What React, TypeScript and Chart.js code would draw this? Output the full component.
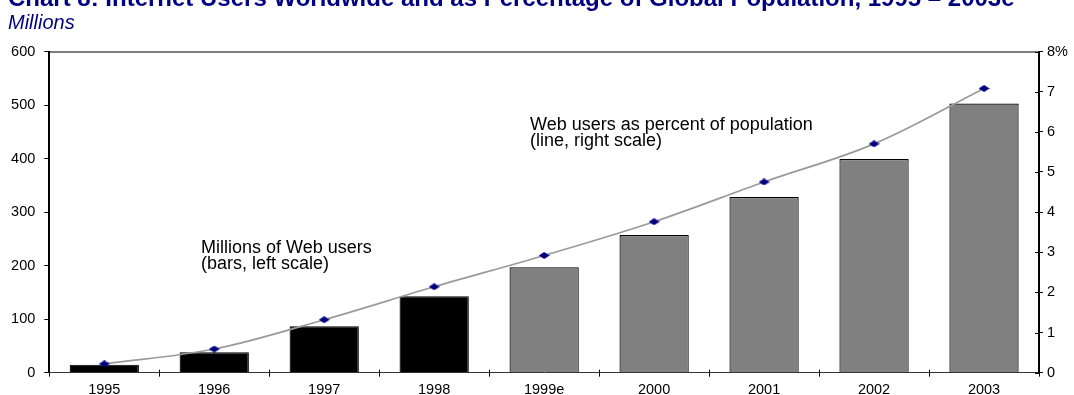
import React, { useEffect, useRef } from "react";
import { Chart, registerables } from "chart.js";

Chart.register(...registerables);

// ---- data ----
const categories = ["1995", "1996", "1997", "1998", "1999e", "2000", "2001", "2002", "2003"];
const webUsersMillions = [15, 38, 87, 143, 197, 257, 328, 399, 503];
const percentOfPopulation = [0.22, 0.59, 1.32, 2.14, 2.92, 3.76, 4.75, 5.7, 7.08];
const isEstimate = [false, false, false, false, true, true, true, true, true];
const leftTickValues = [0, 100, 200, 300, 400, 500, 600];
const rightTickValues = [0, 1, 2, 3, 4, 5, 6, 7, 8];

const FONT = "'Liberation Sans', Arial, Helvetica, sans-serif";

function makeDiamond(): HTMLCanvasElement {
  const c = document.createElement("canvas");
  c.width = 11;
  c.height = 7;
  const g = c.getContext("2d")!;
  g.fillStyle = "#000080";
  g.beginPath();
  g.moveTo(0, 3.5);
  g.lineTo(5.5, 0);
  g.lineTo(11, 3.5);
  g.lineTo(5.5, 7);
  g.closePath();
  g.fill();
  return c;
}

const framePlugin = {
  id: "frame",
  afterDraw(chart: any) {
    const { ctx, chartArea, scales } = chart;
    ctx.save();
    ctx.strokeStyle = "#000";
    ctx.lineWidth = 1;
    // top frame line
    ctx.beginPath();
    ctx.moveTo(chartArea.left, chartArea.top + 0.5);
    ctx.lineTo(chartArea.right, chartArea.top + 0.5);
    ctx.stroke();
    // inward part of right-axis ticks
    const y2 = scales.y2;
    y2.ticks.forEach((_t: any, i: number) => {
      const py = Math.round(y2.getPixelForTick(i)) + 0.5;
      ctx.beginPath();
      ctx.moveTo(chartArea.right - 4, py);
      ctx.lineTo(chartArea.right, py);
      ctx.stroke();
    });
    // upward part of x-axis ticks (category boundaries)
    const x = scales.x;
    const n = x.ticks.length;
    for (let i = 1; i < n; i++) {
      const px = Math.round((x.getPixelForTick(i - 1) + x.getPixelForTick(i)) / 2) + 0.5;
      ctx.beginPath();
      ctx.moveTo(px, chartArea.bottom - 3);
      ctx.lineTo(px, chartArea.bottom);
      ctx.stroke();
    }
    ctx.restore();
  },
};

export default function App() {
  const ref = useRef<HTMLCanvasElement | null>(null);

  useEffect(() => {
    if (!ref.current) return;
    const diamond = makeDiamond();
    const chart = new Chart(ref.current, {
      data: {
        labels: categories,
        datasets: [
          {
            type: "line",
            label: "Web users as percent of population",
            data: percentOfPopulation,
            yAxisID: "y2",
            borderColor: "#9a9a9a",
            borderWidth: 1.7,
            tension: 0.35,
            pointStyle: diamond as any,
            pointRadius: 4,
            pointBackgroundColor: "#000080",
            pointBorderColor: "#000080",
            order: 0,
          } as any,
          {
            type: "bar",
            label: "Millions of Web users",
            data: webUsersMillions,
            yAxisID: "y",
            backgroundColor: isEstimate.map((e) => (e ? "#808080" : "#000000")),
            borderColor: "#000000",
            borderWidth: 1.2,
            categoryPercentage: 0.63,
            barPercentage: 1,
            order: 1,
          } as any,
        ],
      },
      options: {
        responsive: false,
        animation: false,
        events: [],
        layout: { padding: { top: 51.5, left: 0, right: 0, bottom: 0 } },
        plugins: { legend: { display: false }, title: { display: false }, tooltip: { enabled: false } },
        scales: {
          x: {
            type: "category",
            offset: true,
            grid: {
              display: true,
              offset: true,
              drawOnChartArea: false,
              drawTicks: true,
              tickLength: 4,
              color: "#000",
              lineWidth: 1,
            },
            border: { display: true, color: "#333", width: 1 },
            ticks: {
              color: "#000",
              font: { family: FONT, size: 14.5 },
              padding: 5,
              maxRotation: 0,
              autoSkip: false,
            },
            afterFit: (s: any) => {
              s.height = 22.3;
            },
          },
          y: {
            position: "left",
            min: 0,
            max: 600,
            afterBuildTicks: (s: any) => {
              s.ticks = leftTickValues.map((v) => ({ value: v }));
            },
            grid: { display: true, drawOnChartArea: false, drawTicks: true, tickLength: 5, color: "#000" },
            border: { display: true, color: "#000", width: 2 },
            ticks: { color: "#000", font: { family: FONT, size: 14.5 }, padding: 9 },
            afterFit: (s: any) => {
              s.width = 49.3;
            },
          },
          y2: {
            position: "right",
            min: 0,
            max: 8,
            afterBuildTicks: (s: any) => {
              s.ticks = rightTickValues.map((v) => ({ value: v }));
            },
            grid: { display: true, drawOnChartArea: false, drawTicks: true, tickLength: 4, color: "#000" },
            border: { display: true, color: "#000", width: 2 },
            ticks: {
              color: "#000",
              font: { family: FONT, size: 14.5 },
              padding: 4,
              callback: (v: any) => (Number(v) === 8 ? "8%" : String(v)),
            },
            afterFit: (s: any) => {
              s.width = 35;
            },
          },
        },
      },
      plugins: [framePlugin],
    });
    return () => chart.destroy();
  }, []);

  const textBase: React.CSSProperties = {
    position: "absolute",
    whiteSpace: "nowrap",
    fontFamily: FONT,
    margin: 0,
  };

  return (
    <div style={{ position: "absolute", left: 0, top: 0, width: 1074, height: 395, overflow: "hidden", background: "#fff" }}>
      <canvas ref={ref} width={1074} height={395} style={{ position: "absolute", left: 0, top: 0, width: 1074, height: 395 }} />
      <div style={{ ...textBase, left: 8, top: -14.3, fontSize: 24, lineHeight: "24px", fontWeight: "bold", color: "#000080" }}>
        Chart 8: Internet Users Worldwide and as Percentage of Global Population, 1995 – 2003e
      </div>
      <div style={{ ...textBase, left: 8, top: 11.5, fontSize: 20, lineHeight: "20px", fontStyle: "italic", color: "#000080" }}>
        Millions
      </div>
      <div style={{ ...textBase, left: 530, top: 115.8, fontSize: 18, lineHeight: "16px", color: "#000" }}>
        Web users as percent of population
        <br />
        (line, right scale)
      </div>
      <div style={{ ...textBase, left: 201, top: 239, fontSize: 18, lineHeight: "16px", color: "#000" }}>
        Millions of Web users
        <br />
        (bars, left scale)
      </div>
    </div>
  );
}
